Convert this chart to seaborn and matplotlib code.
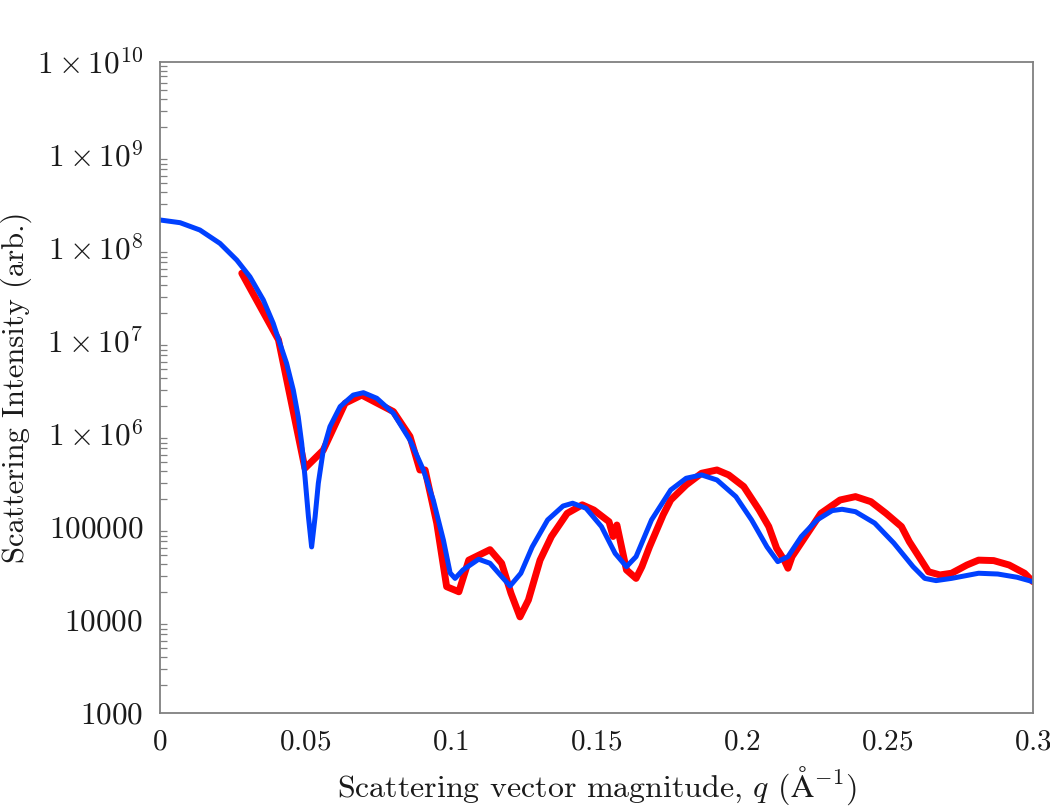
import matplotlib
matplotlib.use("Agg")
import matplotlib.pyplot as plt
import matplotlib.ticker as mticker
import seaborn as sns
import pandas as pd
import numpy as np

# Model (blue) curve
q_model = [0.0, 0.0069, 0.0137, 0.0206, 0.0264, 0.0309, 0.0355, 0.0389, 0.0412,
           0.0435, 0.0458, 0.0475, 0.0487, 0.0498, 0.0510, 0.0521, 0.0533, 0.0544,
           0.0561, 0.0584, 0.0619, 0.0664, 0.0699, 0.0745, 0.0802, 0.0859, 0.0905,
           0.0939, 0.0974, 0.0997, 0.1014, 0.1041, 0.1095, 0.1134, 0.1174, 0.1203,
           0.1240, 0.1279, 0.1332, 0.1385, 0.1418, 0.1464, 0.1517, 0.1564, 0.1603,
           0.1636, 0.1689, 0.1755, 0.1808, 0.1861, 0.1914, 0.1979, 0.2033, 0.2086,
           0.2123, 0.2158, 0.2204, 0.2258, 0.2310, 0.2344, 0.2390, 0.2456, 0.2522,
           0.2588, 0.2628, 0.2667, 0.2720, 0.2813, 0.2879, 0.2945, 0.3000]
I_model = [2.0e8, 1.87e8, 1.56e8, 1.12e8, 7.4e7, 4.9e7, 2.76e7, 1.55e7, 9.4e6,
           5.75e6, 2.97e6, 1.53e6, 7.9e5, 3.5e5, 1.29e5, 6.1e4, 1.29e5, 2.95e5,
           6.7e5, 1.2e6, 1.97e6, 2.62e6, 2.78e6, 2.42e6, 1.67e6, 8.6e5, 4.1e5,
           1.95e5, 7.2e4, 3.2e4, 2.8e4, 3.45e4, 4.5e4, 4.07e4, 2.93e4, 2.32e4,
           3.18e4, 6.1e4, 1.19e5, 1.68e5, 1.8e5, 1.59e5, 1.01e5, 5.2e4, 3.74e4,
           4.8e4, 1.19e5, 2.5e5, 3.34e5, 3.63e5, 3.2e5, 2.12e5, 1.19e5, 6.1e4,
           4.24e4, 4.8e4, 7.9e4, 1.19e5, 1.5e5, 1.55e5, 1.46e5, 1.1e5, 6.7e4,
           3.74e4, 2.8e4, 2.65e4, 2.8e4, 3.18e4, 3.12e4, 2.88e4, 2.58e4]

# Measured (red) data
q_data = [0.0281, 0.0407, 0.0498, 0.0561, 0.0636, 0.0693, 0.0802, 0.0859, 0.0893,
          0.0911, 0.0951, 0.0985, 0.1027, 0.1061, 0.1134, 0.1174, 0.1206, 0.1237,
          0.1266, 0.1306, 0.1345, 0.1399, 0.1451, 0.1491, 0.1543, 0.1557, 0.1570,
          0.1603, 0.1636, 0.1656, 0.1682, 0.1729, 0.1755, 0.1808, 0.1861, 0.1914,
          0.1954, 0.2006, 0.2059, 0.2092, 0.2119, 0.2145, 0.2158, 0.2172, 0.2218,
          0.2271, 0.2337, 0.2390, 0.2443, 0.2495, 0.2548, 0.2575, 0.2608, 0.2641,
          0.2680, 0.2720, 0.2773, 0.2813, 0.2865, 0.2918, 0.2971, 0.3000]
I_data = [5.35e7, 1.03e7, 4.28e5, 6.7e5, 2.14e6, 2.62e6, 1.74e6, 9.4e5, 4.1e5,
          4.1e5, 1.1e5, 2.28e4, 2.01e4, 4.4e4, 5.7e4, 4.07e4, 1.94e4, 1.08e4,
          1.64e4, 4.4e4, 7.9e4, 1.4e5, 1.73e5, 1.52e5, 1.14e5, 7.9e4, 1.05e5,
          3.45e4, 2.8e4, 3.74e4, 6.1e4, 1.35e5, 1.95e5, 2.83e5, 3.78e5, 4.1e5,
          3.63e5, 2.72e5, 1.52e5, 1.01e5, 5.9e4, 4.4e4, 3.6e4, 4.8e4, 7.9e4,
          1.4e5, 1.95e5, 2.12e5, 1.87e5, 1.4e5, 1.01e5, 6.95e4, 4.8e4, 3.3e4,
          3.05e4, 3.18e4, 3.9e4, 4.4e4, 4.35e4, 3.9e4, 3.18e4, 2.58e4]

y_ticks = [1e3, 1e4, 1e5, 1e6, 1e7, 1e8, 1e9, 1e10]
y_tick_labels = [r'$1000$', r'$10000$', r'$100000$', r'$1\times10^{6}$',
                 r'$1\times10^{7}$', r'$1\times10^{8}$', r'$1\times10^{9}$',
                 r'$1\times10^{10}$']
x_ticks = [0, 0.05, 0.1, 0.15, 0.2, 0.25, 0.3]
x_tick_labels = [r'$0$', r'$0.05$', r'$0.1$', r'$0.15$', r'$0.2$', r'$0.25$', r'$0.3$']

sns.set_theme(style="white")
plt.rcParams['font.family'] = ['cmr10', 'DejaVu Serif']
plt.rcParams['mathtext.fontset'] = 'cm'
plt.rcParams['axes.formatter.use_mathtext'] = True

fig = plt.figure(figsize=(10.5, 8.09), dpi=100)
ax = fig.add_axes([0.1524, 0.1187, 0.8314, 0.8047])

df_data = pd.DataFrame({'q': q_data, 'I': I_data})
df_model = pd.DataFrame({'q': q_model, 'I': I_model})
sns.lineplot(data=df_data, x='q', y='I', ax=ax, color='#ff0000', linewidth=5.0,
             sort=False, solid_joinstyle='round', solid_capstyle='round')
sns.lineplot(data=df_model, x='q', y='I', ax=ax, color='#0040ff', linewidth=3.6,
             sort=False, solid_joinstyle='round', solid_capstyle='round')

ax.set_yscale('log')
ax.set_xlim(0, 0.3)
ax.set_ylim(1e3, 1e10)
ax.set_yticks(y_ticks)
ax.set_yticklabels(y_tick_labels)
ax.yaxis.set_minor_locator(mticker.LogLocator(base=10, subs=np.arange(2, 10)))
ax.yaxis.set_minor_formatter(mticker.NullFormatter())
ax.set_xticks(x_ticks)
ax.set_xticklabels(x_tick_labels)

ax.tick_params(axis='both', which='major', direction='in', length=9, width=1,
               color='#808080', pad=12, top=False, right=False,
               labelcolor='#1a1a1a')
ax.tick_params(axis='y', which='major', labelsize=22.5)
ax.tick_params(axis='x', which='major', labelsize=21)
ax.tick_params(axis='y', which='minor', direction='in', length=5, width=0.9,
               color='#808080', left=True, right=False)
ax.tick_params(axis='x', which='minor', bottom=False, top=False)
for s in ax.spines.values():
    s.set_color('#808080')
    s.set_linewidth(1.3)

ax.set_xlabel(r'Scattering vector magnitude, $q$ ($\mathrm{\AA}^{-1}$)',
              fontsize=23, color='#1a1a1a', labelpad=6)
ax.set_ylabel('Scattering Intensity (arb.)', fontsize=22, color='#1a1a1a')
ax.yaxis.set_label_coords(-0.1466, 0.5)

fig.savefig('out.png', dpi=100)
